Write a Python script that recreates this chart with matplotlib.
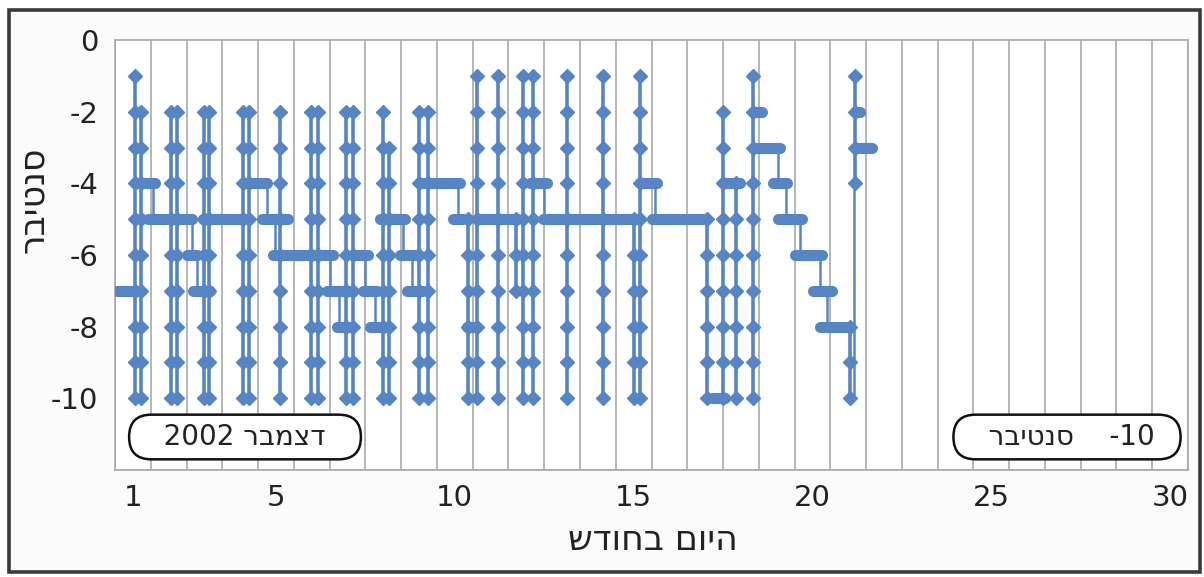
import numpy as np
import matplotlib.pyplot as plt
from matplotlib.patches import Rectangle

plt.rcParams['axes.unicode_minus'] = False

# readings (day of month, centibar)
# vertical runs: the reading swept through every level between low and high
sweep_day = [1.06, 1.23, 2.07, 2.23, 3.00, 3.13,
             4.08, 4.25, 5.11, 5.98, 6.18, 6.96, 7.15,
             8.00, 8.16, 9.00, 9.25, 10.37, 10.62, 11.21,
             11.70, 11.91, 12.19, 13.14, 14.14,
             15.00, 15.18, 17.05, 17.50, 17.85, 18.34,
             21.05, 21.19]
sweep_low = [-10, -10, -10, -10, -10, -10,
             -10, -10, -10, -10, -10, -10, -10,
             -10, -10, -10, -10, -10, -10, -10,
             -7, -10, -10, -10, -10,
             -10, -10, -10, -10, -10, -10,
             -10, -4]
sweep_high = [-1, -2, -2, -2, -2, -2,
              -2, -2, -2, -2, -2, -2, -2,
              -2, -3, -2, -2, -5, -1, -1,
              -5, -1, -1, -1, -1,
              -5, -1, -5, -2, -4, -1,
              -8, -1]

# stretches where the reading held steady
flat_start = [0.56, 1.06, 1.42, 2.51, 2.68, 2.96, 4.13, 4.61, 4.92, 6.43,
              6.71, 7.15, 7.43, 7.63, 7.91, 8.47, 8.66, 9.11, 9.95, 10.34,
              10.70, 12.10, 12.47, 15.18, 15.51, 17.19, 17.50, 18.34, 18.39, 18.90,
              19.04, 19.51, 20.01, 20.21, 21.19, 21.19]
flat_end = [1.14, 1.62, 2.65, 2.79, 3.16, 4.08, 4.75, 5.34, 6.59, 7.07,
            7.07, 7.57, 7.82, 8.10, 8.61, 8.94, 9.11, 10.15, 10.23, 10.62,
            11.74, 12.58, 15.04, 15.65, 16.94, 17.55, 17.97, 18.60, 19.09, 19.29,
            19.71, 20.27, 20.55, 21.05, 21.66, 21.33]
flat_level = [-7, -4, -5, -6, -7, -5, -4, -5, -6, -7,
              -8, -6, -7, -8, -5, -6, -7, -4, -5, -8,
              -5, -4, -5, -4, -5, -10, -4, -2, -3, -4,
              -5, -6, -7, -8, -3, -2]

# single steps between neighbouring levels
step_day = [1.56, 2.65, 2.79, 4.75, 4.97, 6.51, 6.75, 7.50, 7.77, 8.55,
            8.80, 10.10, 12.50, 15.60, 19.05, 19.25, 19.65, 20.20, 20.40, 21.17]
step_from = [-5, -6, -7, -5, -6, -7, -8, -7, -8, -6,
             -7, -5, -5, -5, -4, -5, -6, -7, -8, -10]
step_to = [-4, -5, -6, -4, -5, -6, -7, -6, -7, -5,
           -6, -4, -4, -4, -3, -4, -5, -6, -7, -4]

day_ticks = [1, 5, 10, 15, 20, 25, 30]
level_ticks = [0, -2, -4, -6, -8, -10]

blue = '#5585c5'
W, H = 1204, 577
fig = plt.figure(figsize=(W / 100, H / 100), dpi=100)
fig.patch.set_facecolor('white')
fig.add_artist(Rectangle((9 / W, 5 / H), 1191 / W, 562 / H, transform=fig.transFigure,
                         facecolor='#fbfbfb', edgecolor='#3a3a3a', lw=2.6, zorder=0))

ax = fig.add_axes([115 / W, 1 - 470 / H, (1188 - 115) / W, (470 - 40) / H])
ax.set_facecolor('white')

for d, a, b in zip(step_day, step_from, step_to):
    ax.plot([d, d], [a, b], color=blue, lw=1.8, zorder=2)

for s, e, lv in zip(flat_start, flat_end, flat_level):
    ax.plot([s, e], [lv, lv], color=blue, lw=8, solid_capstyle='round', zorder=3)

for d, lo, hi in zip(sweep_day, sweep_low, sweep_high):
    lv = np.arange(lo, hi + 1)
    ax.plot(np.full(len(lv), d), lv, color=blue, lw=2.6, marker='D', ms=7,
            mec=blue, zorder=4)

ax.set_xlim(0.5, 30.5)
ax.set_ylim(-12, 0)
ax.set_xticks(day_ticks)
ax.set_xticks(np.arange(0.5, 31, 1), minor=True)
ax.set_yticks(level_ticks)
ax.set_yticks([-12, -10, -8, -6, -4, -2, 0], minor=True)
ax.grid(which='minor', axis='both', color='#a9a9a9', lw=1.2)
ax.grid(which='major', axis='both', visible=False)
ax.tick_params(which='both', length=0)
ax.tick_params(axis='y', labelsize=21, pad=12, labelcolor='#222222')
ax.tick_params(axis='x', labelsize=21, pad=10, labelcolor='#222222')
for sp in ax.spines.values():
    sp.set_color('#a9a9a9')
    sp.set_linewidth(1.2)

# Hebrew is drawn left to right, so the strings are given in visual order
ylab = 'סנטיבר'
xlab = 'היום בחודש'
fig.text(33 / W, 1 - 200 / H, ylab[::-1], rotation=90, ha='center', va='center',
         fontsize=25, color='#222222')
fig.text(653 / W, 1 - 540 / H, xlab[::-1], ha='center', va='center',
         fontsize=25, color='#222222')

box = dict(boxstyle='round,pad=0.3,rounding_size=0.8', fc='white', ec='#111111', lw=1.8)
fig.text(245 / W, 1 - 437 / H, '   2002 ' + 'דצמבר'[::-1] + '   ', ha='center', va='center',
         fontsize=20, color='#222222', bbox=box)
fig.text(1067 / W, 1 - 437 / H, '   ' + 'סנטיבר'[::-1] + '    -10  ', ha='center', va='center',
         fontsize=20, color='#222222', bbox=box)

fig.savefig('out.png', dpi=100)
